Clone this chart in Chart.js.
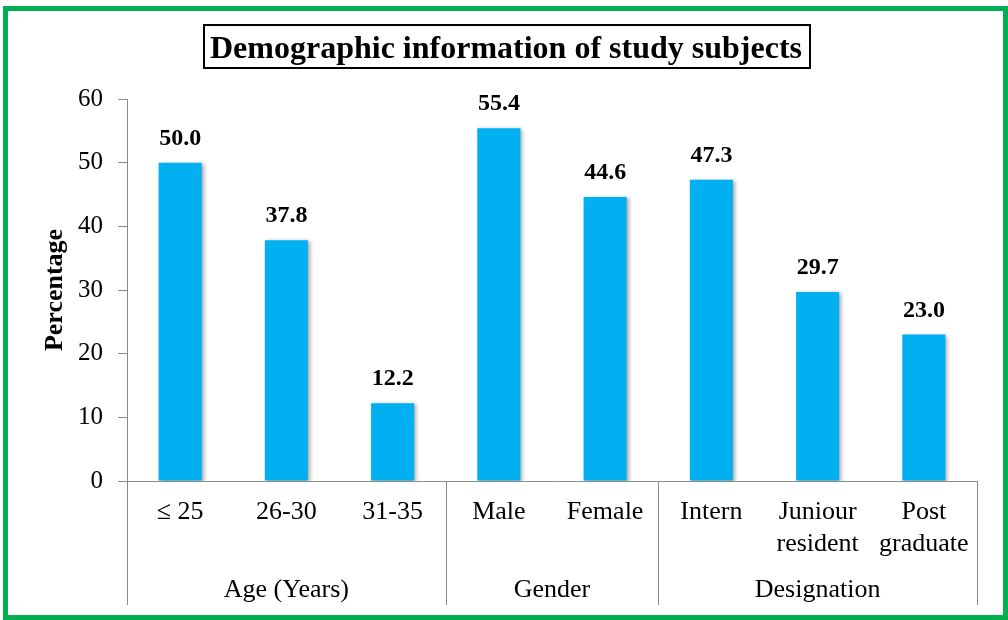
<!DOCTYPE html>
<html>
<head>
<meta charset="utf-8">
<script src="https://cdn.jsdelivr.net/npm/chart.js@4/dist/chart.umd.min.js"></script>
<style>
  html, body { margin: 0; padding: 0; background: #fff; }
  #wrap { width: 1008px; height: 620px; position: relative; }
</style>
</head>
<body>
<div id="wrap"><canvas id="c" width="1008" height="620"></canvas></div>
<script>
// ---- data ----
const chartTitle = "Demographic information of study subjects";
const yAxisTitle = "Percentage";
const categories = ["\u2264 25", "26-30", "31-35", "Male", "Female", "Intern", ["Juniour", "resident"], ["Post", "graduate"]];
const percentages = [50.0, 37.8, 12.2, 55.4, 44.6, 47.3, 29.7, 23.0];
const groupNames = ["Age (Years)", "Gender", "Designation"];
const groupSizes = [3, 2, 3];
const yTicks = [0, 10, 20, 30, 40, 50, 60];

const SERIF = "'Liberation Serif', 'Times New Roman', Times, serif";
const AXIS_GRAY = '#8c8c8c';

const framePlugin = {
  id: 'frame',
  beforeDraw(chart) {
    const ctx = chart.ctx;
    ctx.save();
    ctx.fillStyle = '#fff';
    ctx.fillRect(0, 0, chart.width, chart.height);
    ctx.restore();
  },
  beforeDatasetsDraw(chart) {
    const ctx = chart.ctx;
    ctx.save();
    ctx.shadowColor = 'rgba(0,0,0,0.35)';
    ctx.shadowBlur = 4;
    ctx.shadowOffsetX = 2;
    ctx.shadowOffsetY = 1;
  },
  afterDatasetsDraw(chart) {
    const ctx = chart.ctx;
    ctx.restore();
    // value labels
    const meta = chart.getDatasetMeta(0);
    ctx.save();
    ctx.fillStyle = '#000';
    ctx.font = "bold 24px " + SERIF;
    ctx.textAlign = 'center';
    ctx.textBaseline = 'alphabetic';
    meta.data.forEach((bar, i) => {
      ctx.fillText(percentages[i].toFixed(1), bar.x, bar.y - 18);
    });
    ctx.restore();
  },
  afterDraw(chart) {
    const ctx = chart.ctx;
    const x = chart.scales.x;
    const area = chart.chartArea;
    const half = (x.getPixelForValue(1) - x.getPixelForValue(0)) / 2;
    const lineBottom = 605;
    ctx.save();
    // group separators
    ctx.strokeStyle = AXIS_GRAY;
    ctx.lineWidth = 1;
    let idx = 0;
    const bounds = [x.getPixelForValue(0) - half];
    groupSizes.forEach(s => { idx += s; bounds.push(x.getPixelForValue(idx - 1) + half); });
    bounds.forEach(bx => {
      const px = Math.round(bx) + 0.5;
      ctx.beginPath();
      ctx.moveTo(px, area.bottom);
      ctx.lineTo(px, lineBottom);
      ctx.stroke();
    });
    // group labels
    ctx.fillStyle = '#000';
    ctx.font = "26px " + SERIF;
    ctx.textAlign = 'center';
    ctx.textBaseline = 'middle';
    groupNames.forEach((g, i) => {
      ctx.fillText(g, (bounds[i] + bounds[i + 1]) / 2, 590);
    });
    // title with box
    ctx.font = "bold 32px " + SERIF;
    ctx.textBaseline = 'alphabetic';
    ctx.fillText(chartTitle, 506, 58);
    ctx.strokeStyle = '#000';
    ctx.lineWidth = 2;
    ctx.strokeRect(204, 25, 606, 43);
    // green outer border
    ctx.strokeStyle = '#00B050';
    ctx.lineWidth = 5;
    ctx.strokeRect(5.5, 8.5, 1000, 609);
    ctx.restore();
  }
};

new Chart(document.getElementById('c'), {
  type: 'bar',
  data: {
    labels: categories,
    datasets: [{
      data: percentages,
      backgroundColor: '#00B0F0',
      borderWidth: 0,
      barPercentage: 0.405,
      categoryPercentage: 1.0
    }]
  },
  options: {
    responsive: false,
    animation: false,
    events: [],
    layout: { padding: { left: 36, top: 99, right: 31, bottom: 0 } },
    plugins: {
      legend: { display: false },
      tooltip: { enabled: false },
      title: { display: false }
    },
    scales: {
      x: {
        type: 'category',
        offset: true,
        grid: { display: false, drawTicks: false },
        border: { display: true, color: AXIS_GRAY, width: 1 },
        ticks: {
          color: '#000',
          font: { family: SERIF, size: 26, lineHeight: 1.2 },
          padding: 16,
          maxRotation: 0,
          minRotation: 0,
          autoSkip: false
        },
        afterFit(s) { s.height = 139; }
      },
      y: {
        min: 0,
        max: 60,
        afterBuildTicks(s) { s.ticks = yTicks.map(v => ({ value: v })); },
        grid: { drawOnChartArea: false, drawTicks: true, tickLength: 9, color: AXIS_GRAY },
        border: { display: true, color: AXIS_GRAY, width: 1 },
        ticks: {
          color: '#000',
          font: { family: SERIF, size: 25 },
          padding: 15
        },
        title: {
          display: true,
          text: yAxisTitle,
          color: '#000',
          font: { family: SERIF, size: 26, weight: 'bold', lineHeight: 1.2 },
          padding: { top: 4, bottom: 4 }
        },
        afterFit(s) { s.width = 91; }
      }
    }
  },
  plugins: [framePlugin]
});
</script>
</body>
</html>
